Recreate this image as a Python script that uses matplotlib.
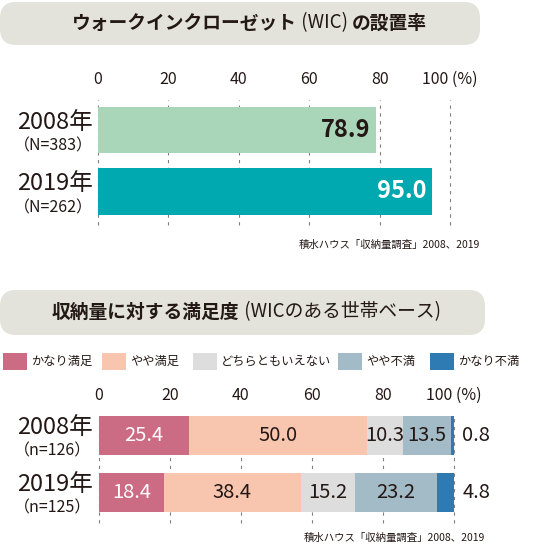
import numpy as np
import matplotlib
matplotlib.use("Agg")
from matplotlib import pyplot as plt
from matplotlib.patches import FancyBboxPatch

plt.rcParams['font.family'] = ['Noto Sans CJK JP', 'DejaVu Sans']

# data
years = ['2008年', '2019年']
wic_n = ['（N=383）', '（N=262）']
wic_rate = [78.9, 95.0]

sat_n = ['（n=126）', '（n=125）']
sat_labels = ['かなり満足', 'やや満足', 'どちらともいえない', 'やや不満', 'かなり不満']
sat_2008 = [25.4, 50.0, 10.3, 13.5, 0.8]
sat_2019 = [18.4, 38.4, 15.2, 23.2, 4.8]

ticks = [0, 20, 40, 60, 80, 100]
tick_labels = ['0', '20', '40', '60', '80', '100 (%)']

# title pieces: (text, bold)
title1 = [('ウォークインクローゼット', True), (' (WIC) ', False), ('の設置率', True)]
title2 = [('収納量に対する満足度', True), (' (WICのある世帯ベース)', False)]
source = '積水ハウス「収納量調査」2008、2019'

# styles
W, H = 550, 544
TXT = '#231815'
BOX = '#e3e3db'
wic_colors = ['#a9d6b9', '#00a8b0']
sat_colors = ['#cc6c84', '#f8c5ae', '#dddddd', '#a3bbc7', '#2e7bb4']
sat_text = ['white', TXT, TXT, TXT, TXT]


def px_axes(fig, left, top, right, bottom):
    return fig.add_axes([left / W, 1 - bottom / H, (right - left) / W, (bottom - top) / H])


def style_axes(ax):
    ax.set_xlim(0, 100)
    ax.set_xticks(ticks)
    ax.set_xticklabels(tick_labels)
    ax.xaxis.tick_top()
    ax.tick_params(axis='x', length=0, pad=8.5, labelsize=11.5, colors=TXT)
    ax.set_yticks([])
    for s in ax.spines.values():
        s.set_visible(False)
    ax.set_facecolor('none')
    ax.grid(axis='x', color='#808080', linestyle=(0, (3, 4)), linewidth=0.8, zorder=0)
    ax.set_axisbelow(True)
    for line in ax.get_xgridlines():
        line.set_clip_on(False)


def mixed_title(fig, ax, x, y, pieces, size):
    # write pieces one after another, bold or regular
    for txt, bold in pieces:
        t = ax.text(x, y, txt, ha='left', va='center', fontsize=size,
                    fontweight='bold' if bold else 'normal', color=TXT)
        fig.canvas.draw()
        x = t.get_window_extent().x1


fig = plt.figure(figsize=(W / 100, H / 100), dpi=100)

# overlay in pixel coordinates for boxes and free text
bg = fig.add_axes([0, 0, 1, 1])
bg.set_xlim(0, W)
bg.set_ylim(H, 0)
bg.axis('off')

bg.add_patch(FancyBboxPatch((0, 2), 480, 43, boxstyle='round,pad=0,rounding_size=16',
                            fc=BOX, ec='none'))
mixed_title(fig, bg, 72, 23, title1, 13.5)

bg.add_patch(FancyBboxPatch((0, 290), 485, 45, boxstyle='round,pad=0,rounding_size=16',
                            fc=BOX, ec='none'))
mixed_title(fig, bg, 52, 312, title2, 13.5)

# top chart
ax1 = px_axes(fig, 98, 100, 450, 225)
style_axes(ax1)
ypos = np.arange(len(years))
ax1.barh(ypos, wic_rate, height=0.75, color=wic_colors, zorder=2)
ax1.set_ylim(1.545, -0.488)
for i, v in enumerate(wic_rate):
    ax1.annotate(f'{v:.1f}', (v, i), xytext=(-4, 0), textcoords='offset points',
                 ha='right', va='center', fontsize=17, fontweight='bold',
                 color=TXT if i == 0 else 'white')

for i, (yl, nl) in enumerate(zip(years, wic_n)):
    y = ax1.transData.transform((0, i))[1]
    bg.text(55, H - y - 8, yl, ha='center', va='center', fontsize=17, color=TXT)
    bg.text(53, H - y + 16, nl, ha='center', va='center', fontsize=11.5, color=TXT)

bg.text(480, 245, source, ha='right', va='center', fontsize=7.5, color=TXT)

# legend
leg_x = [3, 102, 193, 338, 430]
for x, lab, c in zip(leg_x, sat_labels, sat_colors):
    bg.add_patch(plt.Rectangle((x, 353), 24, 17, fc=c, ec='none'))
    bg.text(x + 28, 361.5, lab, ha='left', va='center', fontsize=8.8, color=TXT)

# bottom chart
ax2 = px_axes(fig, 98.7, 416, 454, 523)
style_axes(ax2)
rows = [sat_2008, sat_2019]
for i, row in enumerate(rows):
    left = 0
    for j, v in enumerate(row):
        ax2.barh(i, v, left=left, height=0.684, color=sat_colors[j], zorder=2)
        if v >= 5:
            ax2.text(left + v / 2, i, f'{v:.1f}', ha='center', va='center',
                     fontsize=14.5, color=sat_text[j], zorder=3)
        else:
            ax2.annotate(f'{v:.1f}', (100, i), xytext=(6, 0), textcoords='offset points',
                         ha='left', va='center', fontsize=14.5, color=TXT)
        left += v
ax2.set_ylim(1.535, -0.342)

for i, (yl, nl) in enumerate(zip(years, sat_n)):
    y = ax2.transData.transform((0, i))[1]
    bg.text(55, H - y - 8, yl, ha='center', va='center', fontsize=17, color=TXT)
    bg.text(53, H - y + 15, nl, ha='center', va='center', fontsize=11.5, color=TXT)

bg.text(485, 538, source, ha='right', va='center', fontsize=7.5, color=TXT)

fig.savefig('out.png', dpi=100)
